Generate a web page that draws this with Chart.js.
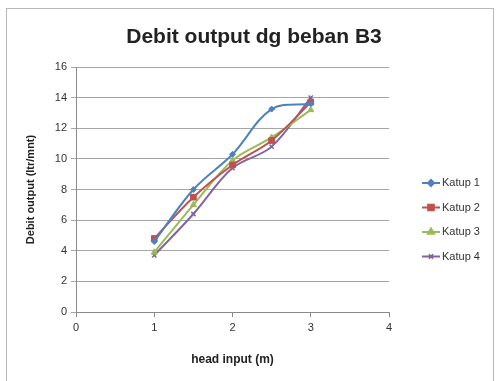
<!DOCTYPE html>
<html lang="id">
  <head>
    <meta charset="UTF-8" />
    <title>Debit output dg beban B3</title>
    <style>
      * { margin: 0; padding: 0; box-sizing: border-box; }
      body { width: 497px; height: 381px; background: #fff; position: relative; overflow: hidden; }
      .frame {
        position: absolute; left: 6px; top: 8px; width: 488px; height: 380px;
        border: 1px solid #b8b8b8;
      }
      #chart { position: absolute; left: 0; top: 0; }
    </style>
    <script src="https://cdn.jsdelivr.net/npm/chart.js"></script>
  </head>
  <body>
    <div class="frame"></div>
    <canvas id="chart" width="497" height="381"></canvas>
    <script>
      // data
      const headInput = [1, 1.5, 2, 2.5, 3];
      const katup1 = [4.6, 8.0, 10.3, 13.25, 13.6];
      const katup2 = [4.8, 7.5, 9.6, 11.2, 13.7];
      const katup3 = [3.9, 7.0, 9.9, 11.4, 13.2];
      const katup4 = [3.7, 6.4, 9.4, 10.8, 14.0];
      const seriesNames = ["Katup 1", "Katup 2", "Katup 3", "Katup 4"];
      const xTicks = [0, 1, 2, 3, 4];
      const yTicks = [0, 2, 4, 6, 8, 10, 12, 14, 16];
      const chartTitle = "Debit output dg beban B3";

      const colors = ["#4f81bd", "#c0504d", "#9bbb59", "#8064a2"];
      const markers = ["rectRot", "rect", "triangle", "crossRot"];
      const sizes = [3, 4, 3.5, 3];
      const font = "'Liberation Sans', Arial, sans-serif";

      function toPoints(values) {
        return headInput.map((x, i) => ({ x: x, y: values[i] }));
      }

      const datasets = [katup1, katup2, katup3, katup4].map((vals, i) => ({
        label: seriesNames[i],
        data: toPoints(vals),
        showLine: true,
        borderColor: colors[i],
        backgroundColor: colors[i],
        borderWidth: 2,
        tension: 0.35,
        pointStyle: markers[i],
        pointRadius: sizes[i],
        pointBorderWidth: i === 3 ? 1.5 : 1,
      }));

      // title centred over the whole frame, not only the plot box
      const frameTitle = {
        id: "frameTitle",
        afterDraw(chart) {
          const ctx = chart.ctx;
          ctx.save();
          ctx.fillStyle = "#222";
          ctx.font = "bold 21px " + font;
          ctx.textAlign = "center";
          ctx.textBaseline = "middle";
          ctx.fillText(chartTitle, 254, 37);
          ctx.restore();
        },
      };

      // legend drawn to the right of the plot, line + marker like excel
      const sideLegend = {
        id: "sideLegend",
        afterDraw(chart) {
          const ctx = chart.ctx;
          const area = chart.chartArea;
          const x0 = area.right + 33;
          let y = area.top + 116;
          chart.data.datasets.forEach((ds) => {
            ctx.save();
            ctx.strokeStyle = ds.borderColor;
            ctx.lineWidth = 2;
            ctx.beginPath();
            ctx.moveTo(x0, y);
            ctx.lineTo(x0 + 18, y);
            ctx.stroke();
            Chart.helpers.drawPoint(ctx, {
              pointStyle: ds.pointStyle,
              radius: ds.pointRadius,
              borderWidth: ds.pointBorderWidth,
              rotation: 0,
            }, x0 + 9, y);
            ctx.fillStyle = ds.borderColor;
            ctx.strokeStyle = ds.borderColor;
            ctx.fill();
            ctx.fillStyle = "#333";
            ctx.font = "11px " + font;
            ctx.textBaseline = "middle";
            ctx.fillText(ds.label, x0 + 20, y);
            ctx.restore();
            y += 24.5;
          });
        },
      };

      new Chart(document.getElementById("chart"), {
        type: "scatter",
        data: { datasets: datasets },
        plugins: [sideLegend, frameTitle],
        options: {
          responsive: false,
          animation: false,
          layout: { padding: { top: 67, left: 0, right: 108, bottom: 0 } },
          plugins: {
            legend: { display: false },
            tooltip: { enabled: false },
            title: { display: false },
          },
          scales: {
            x: {
              type: "linear",
              min: 0,
              max: 4,
              afterFit: (s) => { s.height = 69; },
              afterBuildTicks: (s) => { s.ticks = xTicks.map((v) => ({ value: v })); },
              grid: { display: true, drawOnChartArea: false, color: "#8a8a8a", tickLength: 5 },
              border: { color: "#8a8a8a" },
              ticks: { color: "#333", font: { family: font, size: 11 }, padding: 4 },
              title: {
                display: true,
                text: "head input (m)",
                color: "#222",
                font: { family: font, size: 12, weight: "bold" },
                padding: { top: 0, bottom: 14 },
              },
            },
            y: {
              min: 0,
              max: 16,
              afterFit: (s) => { s.width = 76; },
              afterBuildTicks: (s) => { s.ticks = yTicks.map((v) => ({ value: v })); },
              grid: { color: "#a6a6a6", tickLength: 5 },
              border: { color: "#8a8a8a" },
              ticks: { color: "#333", font: { family: font, size: 11 }, padding: 4 },
              title: {
                display: true,
                text: "Debit output (ltr/mnt)",
                color: "#222",
                font: { family: font, size: 11, weight: "bold" },
                padding: { top: 24, bottom: 0 },
              },
            },
          },
        },
      });
    </script>
  </body>
</html>
